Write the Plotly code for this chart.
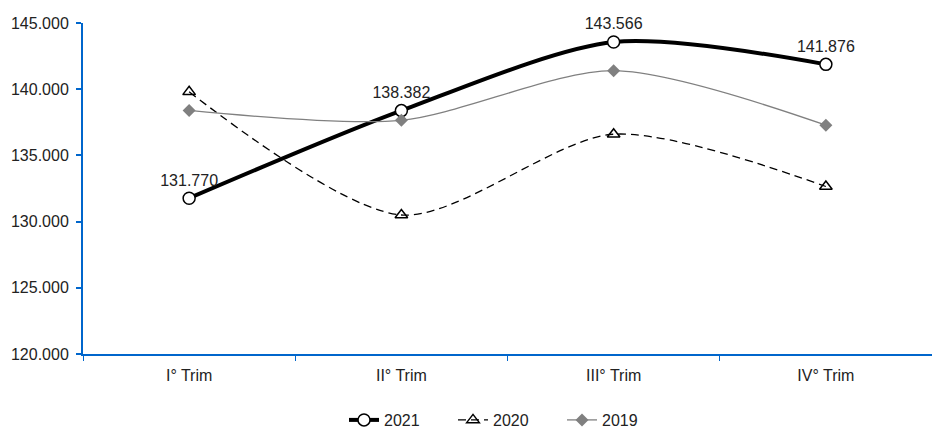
import plotly.graph_objects as go

categories = ["I° Trim", "II° Trim", "III° Trim", "IV° Trim"]
v2021 = [131770, 138382, 143566, 141876]
v2020 = [139800, 130500, 136600, 132650]
v2019 = [138400, 137650, 141400, 137280]
y_ticks = [120000, 125000, 130000, 135000, 140000, 145000]

fig = go.Figure()
fig.add_trace(go.Scatter(
    x=categories, y=v2021, name="2021", mode="lines+markers+text",
    line=dict(color="black", width=4, shape="spline", smoothing=0.8),
    marker=dict(symbol="circle", size=12, color="white", line=dict(color="black", width=1.5)),
    texttemplate="%{y:,d}", textposition="top center", cliponaxis=False,
    textfont=dict(size=16, color="#222222"),
))
fig.add_trace(go.Scatter(
    x=categories, y=v2020, name="2020", mode="lines+markers", cliponaxis=False,
    line=dict(color="black", width=1.3, dash="8px,5px", shape="spline", smoothing=0.8),
    marker=dict(symbol="triangle-up-open", size=11, color="black", line=dict(width=1.5)),
))
fig.add_trace(go.Scatter(
    x=categories, y=v2019, name="2019", mode="lines+markers", cliponaxis=False,
    line=dict(color="#808080", width=1.3, shape="spline", smoothing=0.8),
    marker=dict(symbol="diamond", size=10, color="#808080"),
))

axis_color = "#0066CC"
fig.update_layout(
    width=932, height=437,
    margin=dict(l=83, r=0, t=23, b=75),
    plot_bgcolor="white", paper_bgcolor="white",
    separators=",.",
    font=dict(family="Liberation Sans, Arial, sans-serif", size=16, color="#222222"),
    showlegend=True,
    legend=dict(orientation="h", xanchor="center", x=0.5, yanchor="middle", y=-0.2,
                font=dict(size=16, color="#222222"), entrywidth=64, entrywidthmode="pixels"),
    xaxis=dict(type="category", range=[-0.5, 3.5], showline=True, linecolor=axis_color, linewidth=2,
               ticks="outside", tickson="boundaries", tickcolor=axis_color, ticklen=5, tickwidth=1,
               showgrid=False, zeroline=False, automargin=False, ticklabelstandoff=6),
    yaxis=dict(range=[120000, 145000], tickvals=y_ticks, tickformat=",d", showline=True,
               linecolor=axis_color, linewidth=2, ticks="outside", tickcolor=axis_color,
               ticklen=5, tickwidth=2, showgrid=False, zeroline=False, automargin=False,
               ticklabelstandoff=4),
)
fig.write_html(
    "out.html",
    config={"displayModeBar": False},
    post_script="document.documentElement.style.overflow='hidden';"
                "document.body.style.margin='0';document.body.style.overflow='hidden';",
)
